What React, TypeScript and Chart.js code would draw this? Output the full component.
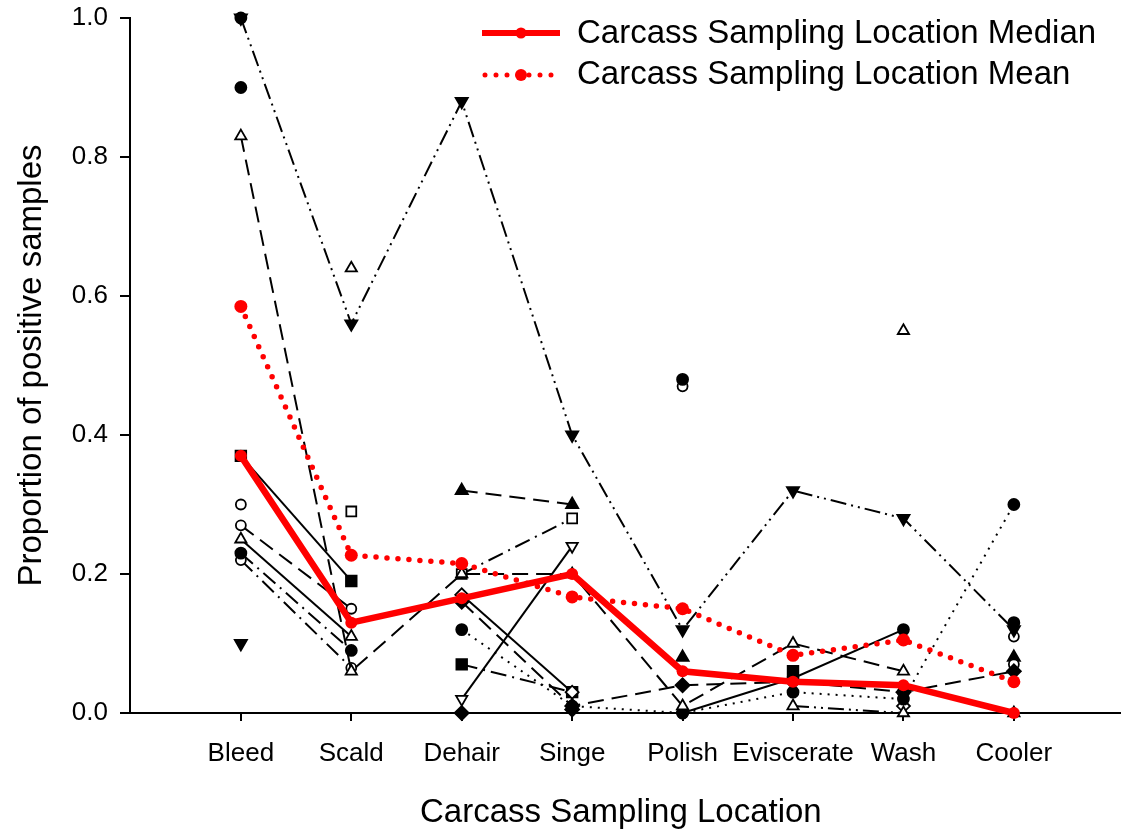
import React, { useEffect, useRef } from 'react';
import { Chart, registerables } from 'chart.js';

Chart.register(...registerables);

// ---------- data ----------
const categories = ['Bleed', 'Scald', 'Dehair', 'Singe', 'Polish', 'Eviscerate', 'Wash', 'Cooler'];
const yTickValues = [0, 0.2, 0.4, 0.6, 0.8, 1.0];

const medianValues = [0.37, 0.13, 0.165, 0.2, 0.06, 0.045, 0.04, 0.0];
const meanValues = [0.585, 0.227, 0.215, 0.167, 0.15, 0.083, 0.105, 0.045];

const study1 = [1.0, 0.56, 0.88, 0.4, 0.12, 0.32, 0.28, 0.12];
const study2 = [0.83, 0.06, 0.2, 0.2, 0.01, 0.1, 0.06, null];
const study3 = [0.37, 0.19, null, null, null, null, null, null];
const study4 = [0.25, 0.11, null, null, null, null, null, null];
const study5 = [0.23, 0.09, null, null, null, null, null, null];
const study6 = [0.27, 0.15, null, null, null, null, null, null];
const study7 = [0.22, 0.065, null, null, null, null, null, null];
const study8 = [null, null, 0.32, 0.3, null, null, null, null];
const study9 = [null, null, 0.2, 0.28, null, null, null, null];
const study10 = [null, null, 0.02, 0.24, null, null, null, null];
const study11 = [null, null, 0.17, 0.03, null, null, null, null];
const study12 = [null, null, 0.16, 0.01, 0.04, 0.045, 0.03, 0.06];
const study13 = [null, null, 0.12, 0.01, 0.0, 0.03, 0.02, 0.3];
const study14 = [null, null, 0.07, 0.03, null, null, null, null];
const study15 = [null, null, null, null, 0.0, 0.05, 0.12, null];
const study16 = [null, null, null, null, null, 0.01, 0.0, 0.0];

const extraFilledCircle = [0.9, null, null, null, 0.48, null, 0.03, 0.13];
const extraFilledCircleTop = [1.0, null, null, null, null, null, null, null];
const extraOpenCircle = [0.3, null, null, 0.03, 0.47, null, null, 0.11];
const extraOpenCircle2 = [null, null, null, null, null, null, null, 0.07];
const extraOpenTriangle = [null, 0.64, null, null, null, null, 0.55, null];
const extraOpenSquare = [null, 0.29, null, null, null, null, null, null];
const extraFilledTriangle = [null, null, null, null, 0.08, null, null, 0.08];
const extraFilledDownTriangle = [0.1, null, null, null, null, null, null, null];
const extraFilledDiamond = [null, null, 0.0, 0.005, null, null, null, null];
const extraFilledSquare = [null, null, null, null, null, 0.06, null, null];
const extraOpenDiamond = [null, null, null, null, null, null, 0.01, null];

// ---------- styles ----------
const RED = '#ff0000';
const FONT = "'Liberation Sans', Arial, Helvetica, sans-serif";

const DASHES: Record<string, number[]> = {
  solid: [],
  longDash: [16, 8],
  dashDot: [16, 6, 2, 6],
  dashDotDot: [16, 5, 2, 5, 2, 5],
  dotted: [2, 6],
};

const MARKERS: Record<string, { style: string; fill: boolean; rot: number; r: number }> = {
  filledCircle: { style: 'circle', fill: true, rot: 0, r: 5.5 },
  openCircle: { style: 'circle', fill: false, rot: 0, r: 5 },
  filledTriangle: { style: 'triangle', fill: true, rot: 0, r: 7 },
  openTriangle: { style: 'triangle', fill: false, rot: 0, r: 6.5 },
  filledDown: { style: 'triangle', fill: true, rot: 180, r: 7 },
  openDown: { style: 'triangle', fill: false, rot: 180, r: 6.5 },
  filledSquare: { style: 'rect', fill: true, rot: 0, r: 7.5 },
  openSquare: { style: 'rect', fill: false, rot: 0, r: 7 },
  filledDiamond: { style: 'rectRot', fill: true, rot: 0, r: 7 },
  openDiamond: { style: 'rectRot', fill: false, rot: 0, r: 6.5 },
};

const lineSeries = [
  { values: study1, dash: 'dashDotDot', marker: 'filledDown' },
  { values: study2, dash: 'longDash', marker: 'openTriangle' },
  { values: study3, dash: 'solid', marker: 'filledSquare' },
  { values: study4, dash: 'solid', marker: 'openTriangle' },
  { values: study5, dash: 'dashDot', marker: 'filledCircle' },
  { values: study6, dash: 'longDash', marker: 'openCircle' },
  { values: study7, dash: 'dashDot', marker: 'openCircle' },
  { values: study8, dash: 'longDash', marker: 'filledTriangle' },
  { values: study9, dash: 'dashDot', marker: 'openSquare' },
  { values: study10, dash: 'solid', marker: 'openDown' },
  { values: study11, dash: 'solid', marker: 'openDiamond' },
  { values: study12, dash: 'longDash', marker: 'filledDiamond' },
  { values: study13, dash: 'dotted', marker: 'filledCircle' },
  { values: study14, dash: 'dashDot', marker: 'filledSquare' },
  { values: study15, dash: 'solid', marker: 'filledCircle' },
  { values: study16, dash: 'dashDotDot', marker: 'openTriangle' },
];

const pointSeries = [
  { values: extraFilledCircle, marker: 'filledCircle' },
  { values: extraFilledCircleTop, marker: 'filledCircle' },
  { values: extraOpenCircle, marker: 'openCircle' },
  { values: extraOpenCircle2, marker: 'openCircle' },
  { values: extraOpenTriangle, marker: 'openTriangle' },
  { values: extraOpenSquare, marker: 'openSquare' },
  { values: extraFilledTriangle, marker: 'filledTriangle' },
  { values: extraFilledDownTriangle, marker: 'filledDown' },
  { values: extraFilledDiamond, marker: 'filledDiamond' },
  { values: extraFilledSquare, marker: 'filledSquare' },
  { values: extraOpenDiamond, marker: 'openDiamond' },
];

const toPoints = (values: (number | null)[]) => values.map((v, i) => ({ x: i + 1, y: v }));

const legendPlugin = {
  id: 'refLegend',
  afterDraw(chart: any) {
    const ctx = chart.ctx;
    ctx.save();
    // extend the x axis line to the right edge of the canvas
    const xs = chart.scales.x;
    ctx.strokeStyle = '#000';
    ctx.lineWidth = 2;
    ctx.beginPath();
    ctx.moveTo(xs.right - 1, chart.chartArea.bottom + 0);
    ctx.lineTo(chart.width, chart.chartArea.bottom + 0);
    ctx.stroke();

    ctx.strokeStyle = RED;
    ctx.fillStyle = RED;
    ctx.lineWidth = 6;
    ctx.lineCap = 'butt';
    ctx.beginPath();
    ctx.moveTo(482, 33);
    ctx.lineTo(560, 33);
    ctx.stroke();
    ctx.beginPath();
    ctx.arc(521, 33, 5.5, 0, Math.PI * 2);
    ctx.fill();
    ctx.lineWidth = 5;
    ctx.lineCap = 'round';
    ctx.setLineDash([0, 11]);
    ctx.beginPath();
    ctx.moveTo(485, 75);
    ctx.lineTo(560, 75);
    ctx.stroke();
    ctx.setLineDash([]);
    ctx.beginPath();
    ctx.arc(521, 75, 6, 0, Math.PI * 2);
    ctx.fill();
    ctx.fillStyle = '#000';
    ctx.font = `33px ${FONT}`;
    ctx.textBaseline = 'middle';
    ctx.textAlign = 'left';
    ctx.fillText('Carcass Sampling Location Median', 577, 34);
    ctx.fillText('Carcass Sampling Location Mean', 577, 75);
    ctx.restore();
  },
};

export default function App() {
  const ref = useRef<HTMLCanvasElement | null>(null);

  useEffect(() => {
    if (!ref.current) return;
    document.body.style.margin = '0';

    const blackDatasets = lineSeries.map((s, i) => {
      const m = MARKERS[s.marker];
      return {
        label: `Study ${i + 1}`,
        data: toPoints(s.values),
        borderColor: '#000',
        borderWidth: 2,
        borderDash: DASHES[s.dash],
        pointStyle: m.style,
        pointRotation: m.rot,
        pointRadius: m.r,
        pointBorderWidth: 1.8,
        pointBackgroundColor: m.fill ? '#000' : '#fff',
        pointBorderColor: '#000',
        showLine: true,
        spanGaps: false,
        fill: false,
        order: 2,
        clip: false,
      };
    });

    const markerDatasets = pointSeries.map((s, i) => {
      const m = MARKERS[s.marker];
      return {
        label: `Extra ${i + 1}`,
        data: toPoints(s.values),
        borderColor: '#000',
        showLine: false,
        pointStyle: m.style,
        pointRotation: m.rot,
        pointRadius: m.r,
        pointBorderWidth: 1.8,
        pointBackgroundColor: m.fill ? '#000' : '#fff',
        pointBorderColor: '#000',
        order: 2,
        clip: false,
      };
    });

    const chart = new Chart(ref.current, {
      type: 'scatter',
      data: {
        datasets: [
          {
            label: 'Carcass Sampling Location Median',
            data: toPoints(medianValues),
            borderColor: RED,
            backgroundColor: RED,
            borderWidth: 6.5,
            pointStyle: 'circle',
            pointRadius: 6,
            pointBackgroundColor: RED,
            pointBorderColor: RED,
            pointBorderWidth: 0,
            showLine: true,
            order: 0,
            clip: false,
          },
          {
            label: 'Carcass Sampling Location Mean',
            data: toPoints(meanValues),
            borderColor: RED,
            backgroundColor: RED,
            borderWidth: 5.5,
            borderDash: [0, 11],
            borderCapStyle: 'round',
            pointStyle: 'circle',
            pointRadius: 6.5,
            pointBackgroundColor: RED,
            pointBorderColor: RED,
            pointBorderWidth: 0,
            showLine: true,
            order: 1,
            clip: false,
          },
          ...blackDatasets,
          ...markerDatasets,
        ] as any,
      },
      options: {
        animation: false,
        responsive: false,
        maintainAspectRatio: false,
        layout: { padding: { top: 18, right: 0, left: 0, bottom: 0 } },
        plugins: {
          legend: { display: false },
          tooltip: { enabled: false },
        },
        scales: {
          x: {
            type: 'linear',
            min: -0.004,
            max: 8.886,
            afterBuildTicks: (scale: any) => {
              scale.ticks = categories.map((_, i) => ({ value: i + 1 }));
            },
            afterFit: (scale: any) => {
              scale.height = 123;
              scale.paddingLeft = 0;
              scale.paddingRight = 0;
            },
            grid: {
              display: true,
              drawOnChartArea: false,
              drawTicks: true,
              tickLength: 8,
              color: '#000',
              lineWidth: 2,
            },
            border: { display: true, color: '#000', width: 2 },
            ticks: {
              autoSkip: false,
              maxRotation: 0,
              padding: 17,
              color: '#000',
              font: { family: FONT, size: 26 },
              callback: (v: any) => categories[Math.round(Number(v)) - 1] ?? '',
            },
            title: {
              display: true,
              text: 'Carcass Sampling Location',
              color: '#000',
              font: { family: FONT, size: 33 },
              padding: { top: 0, bottom: 3 },
            },
          },
          y: {
            type: 'linear',
            min: 0,
            max: 1,
            afterBuildTicks: (scale: any) => {
              scale.ticks = yTickValues.map((v) => ({ value: v }));
            },
            afterFit: (scale: any) => {
              scale.width = 130;
              scale.paddingTop = 0;
              scale.paddingBottom = 0;
            },
            grid: {
              display: true,
              drawOnChartArea: false,
              drawTicks: true,
              tickLength: 10,
              color: '#000',
              lineWidth: 2,
            },
            border: { display: true, color: '#000', width: 2 },
            ticks: {
              padding: 12,
              color: '#000',
              font: { family: FONT, size: 26 },
              callback: (v: any) => Number(v).toFixed(1),
            },
            title: {
              display: true,
              text: 'Proportion of positive samples',
              color: '#000',
              font: { family: FONT, size: 33 },
              padding: { top: 12, bottom: 0 },
            },
          },
        },
      },
      plugins: [legendPlugin],
    });

    return () => chart.destroy();
  }, []);

  return (
    <div style={{ position: 'absolute', left: 0, top: 0, width: 1121, height: 836 }}>
      <canvas ref={ref} width={1121} height={836} style={{ width: 1121, height: 836, display: 'block' }} />
    </div>
  );
}
